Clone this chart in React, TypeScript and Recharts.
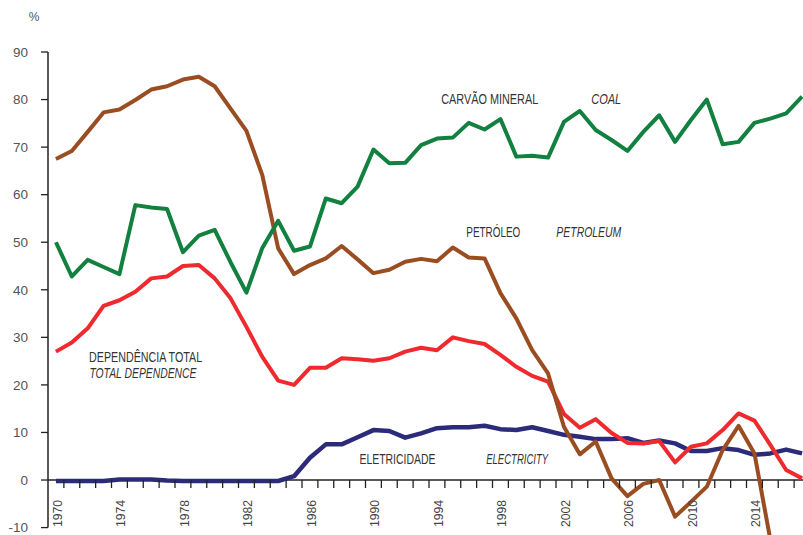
import React from 'react';
import { LineChart, Line, XAxis, YAxis, ReferenceLine, ReferenceDot } from 'recharts';

const years = [
  1970, 1971, 1972, 1973, 1974, 1975, 1976, 1977, 1978, 1979,
  1980, 1981, 1982, 1983, 1984, 1985, 1986, 1987, 1988, 1989,
  1990, 1991, 1992, 1993, 1994, 1995, 1996, 1997, 1998, 1999,
  2000, 2001, 2002, 2003, 2004, 2005, 2006, 2007, 2008, 2009,
  2010, 2011, 2012, 2013, 2014, 2015, 2016, 2017,
];

const coal = [
  50.0, 42.8, 46.3, 44.8, 43.3, 57.8, 57.3, 57.0, 47.9, 51.4,
  52.6, 45.8, 39.4, 48.8, 54.5, 48.2, 49.1, 59.2, 58.2, 61.7,
  69.5, 66.6, 66.7, 70.4, 71.8, 72.0, 75.1, 73.7, 75.9, 68.0,
  68.2, 67.8, 75.3, 77.6, 73.6, 71.5, 69.2, 73.2, 76.7, 71.1,
  75.7, 80.0, 70.6, 71.1, 75.1, 76.0, 77.1, 80.6,
];

const petroleum: (number | null)[] = [
  67.5, 69.2, 73.2, 77.3, 77.9, 79.9, 82.1, 82.8, 84.2, 84.8,
  82.8, 78.1, 73.4, 64.1, 48.7, 43.3, 45.2, 46.6, 49.2, 46.4,
  43.5, 44.2, 45.9, 46.5, 46.0, 48.9, 46.8, 46.6, 39.3, 34.0,
  27.3, 22.4, 11.2, 5.4, 8.1, 0.35, -3.4, -0.8, 0.0, -7.7,
  -4.6, -1.4, 6.3, 11.4, 5.6, -12.5, null, null,
];

const totalDependence = [
  27.0, 28.9, 31.9, 36.6, 37.8, 39.6, 42.4, 42.8, 45.0, 45.2,
  42.4, 38.2, 32.2, 25.9, 20.9, 20.0, 23.6, 23.6, 25.6, 25.4,
  25.1, 25.6, 27.0, 27.8, 27.3, 30.0, 29.2, 28.6, 26.3, 23.8,
  21.9, 20.7, 13.9, 11.0, 12.8, 9.9, 7.8, 7.7, 8.2, 3.7,
  7.0, 7.7, 10.5, 14.0, 12.5, 7.4, 2.1, 0.35,
];

const electricity = [
  -0.2, -0.2, -0.2, -0.2, 0.1, 0.1, 0.1, -0.1, -0.2, -0.2,
  -0.2, -0.2, -0.2, -0.2, -0.2, 0.8, 4.7, 7.5, 7.5, 9.0,
  10.5, 10.3, 8.9, 9.8, 10.9, 11.1, 11.1, 11.4, 10.7, 10.5,
  11.1, 10.3, 9.5, 9.1, 8.6, 8.6, 8.8, 7.8, 8.3, 7.7,
  6.1, 6.1, 6.7, 6.3, 5.3, 5.6, 6.4, 5.6,
];

const yTicks = [-10, 0, 10, 20, 30, 40, 50, 60, 70, 80, 90];
const yearLabels = [1970, 1974, 1978, 1982, 1986, 1990, 1994, 1998, 2002, 2006, 2010, 2014];

const annotations = [
  { text: 'DEPENDÊNCIA TOTAL', x: 1972.09, y: 24.9, italic: false, w: 113 },
  { text: 'TOTAL DEPENDENCE', x: 1972.11, y: 21.45, italic: true, w: 107 },
  { text: 'CARVÃO MINERAL', x: 1994.27, y: 79.06, italic: false, w: 97 },
  { text: 'COAL', x: 2003.72, y: 79.06, italic: true, w: 30 },
  { text: 'PETRÓLEO', x: 1995.85, y: 51.1, italic: false, w: 54 },
  { text: 'PETROLEUM', x: 2001.52, y: 51.1, italic: true, w: 65 },
  { text: 'ELETRICIDADE', x: 1989.12, y: 3.3, italic: false, w: 76 },
  { text: 'ELECTRICITY', x: 1997.1, y: 3.3, italic: true, w: 62 },
];

const data = years.map((year, i) => ({
  year,
  coal: coal[i],
  petroleum: petroleum[i],
  total: totalDependence[i],
  electricity: electricity[i],
}));

const boundaries = years.slice(0, -1).map((y) => y + 0.5);

const FONT = '"Liberation Sans", Arial, sans-serif';
const NARROW = '"Liberation Sans Narrow", "Arial Narrow", "Liberation Sans", sans-serif';

export default function App() {
  return (
    <div style={{ position: 'absolute', left: 0, top: 0, width: 803, height: 535, overflow: 'hidden', background: '#fff' }}>
      <LineChart width={810} height={535} data={data} margin={{ top: 52, right: 0, bottom: 0, left: 0 }}>
        <XAxis dataKey="year" type="number" domain={[1969.5, 2017.5]} hide allowDataOverflow />
        <YAxis
          type="number"
          domain={[-11.56, 90]}
          allowDataOverflow
          ticks={yTicks}
          interval={0}
          width={48}
          axisLine={false}
          tickLine={{ stroke: '#222', strokeWidth: 1.3 }}
          tickSize={7}
          tickMargin={13}
          tick={{ fill: '#555', fontSize: 13.5, fontFamily: FONT }}
        />
        <ReferenceLine
          segment={[{ x: 1969.5, y: -10 }, { x: 1969.5, y: 90 }]}
          stroke="#222"
          strokeWidth={1.5}
          ifOverflow="visible"
        />
        <ReferenceLine y={0} stroke="#222" strokeWidth={1.5} ifOverflow="visible" />
        {boundaries.map((b) => (
          <ReferenceDot
            key={'t' + b}
            x={b}
            y={0}
            ifOverflow="visible"
            shape={(p: any) => (
              <line x1={p.cx} y1={p.cy} x2={p.cx} y2={p.cy + 8} stroke="#222" strokeWidth={1.3} />
            )}
          />
        ))}
        {yearLabels.map((yr) => (
          <ReferenceDot
            key={'l' + yr}
            x={yr}
            y={0}
            ifOverflow="visible"
            shape={(p: any) => (
              <text
                transform={`translate(${p.cx + 5.8},${p.cy + 20}) rotate(-90)`}
                textAnchor="end"
                fontFamily={FONT}
                fontSize={13}
                fill="#444"
                textLength={27}
                lengthAdjust="spacingAndGlyphs"
              >
                {yr}
              </text>
            )}
          />
        ))}
        <ReferenceDot
          x={1969.5}
          y={90}
          ifOverflow="visible"
          shape={(p: any) => (
            <text x={p.cx - 14} y={p.cy - 31} textAnchor="middle" fontFamily={FONT} fontSize={12} fill="#555">
              %
            </text>
          )}
        />
        {annotations.map((a) => (
          <ReferenceDot
            key={a.text}
            x={a.x}
            y={a.y}
            ifOverflow="visible"
            shape={(p: any) => (
              <text
                x={p.cx}
                y={p.cy}
                fontFamily={NARROW}
                fontSize={14}
                fontStyle={a.italic ? 'italic' : 'normal'}
                fill="#333"
                textLength={a.w}
                lengthAdjust="spacingAndGlyphs"
              >
                {a.text}
              </text>
            )}
          />
        ))}
        <Line type="linear" dataKey="electricity" stroke="#2b2b7a" strokeWidth={4.5} dot={false} isAnimationActive={false} strokeLinejoin="round" />
        <Line type="linear" dataKey="total" stroke="#ee2a2e" strokeWidth={4} dot={false} isAnimationActive={false} strokeLinejoin="round" />
        <Line type="linear" dataKey="petroleum" stroke="#9b4d22" strokeWidth={4} dot={false} isAnimationActive={false} strokeLinejoin="round" />
        <Line type="linear" dataKey="coal" stroke="#12803f" strokeWidth={4} dot={false} isAnimationActive={false} strokeLinejoin="round" />
      </LineChart>
    </div>
  );
}
